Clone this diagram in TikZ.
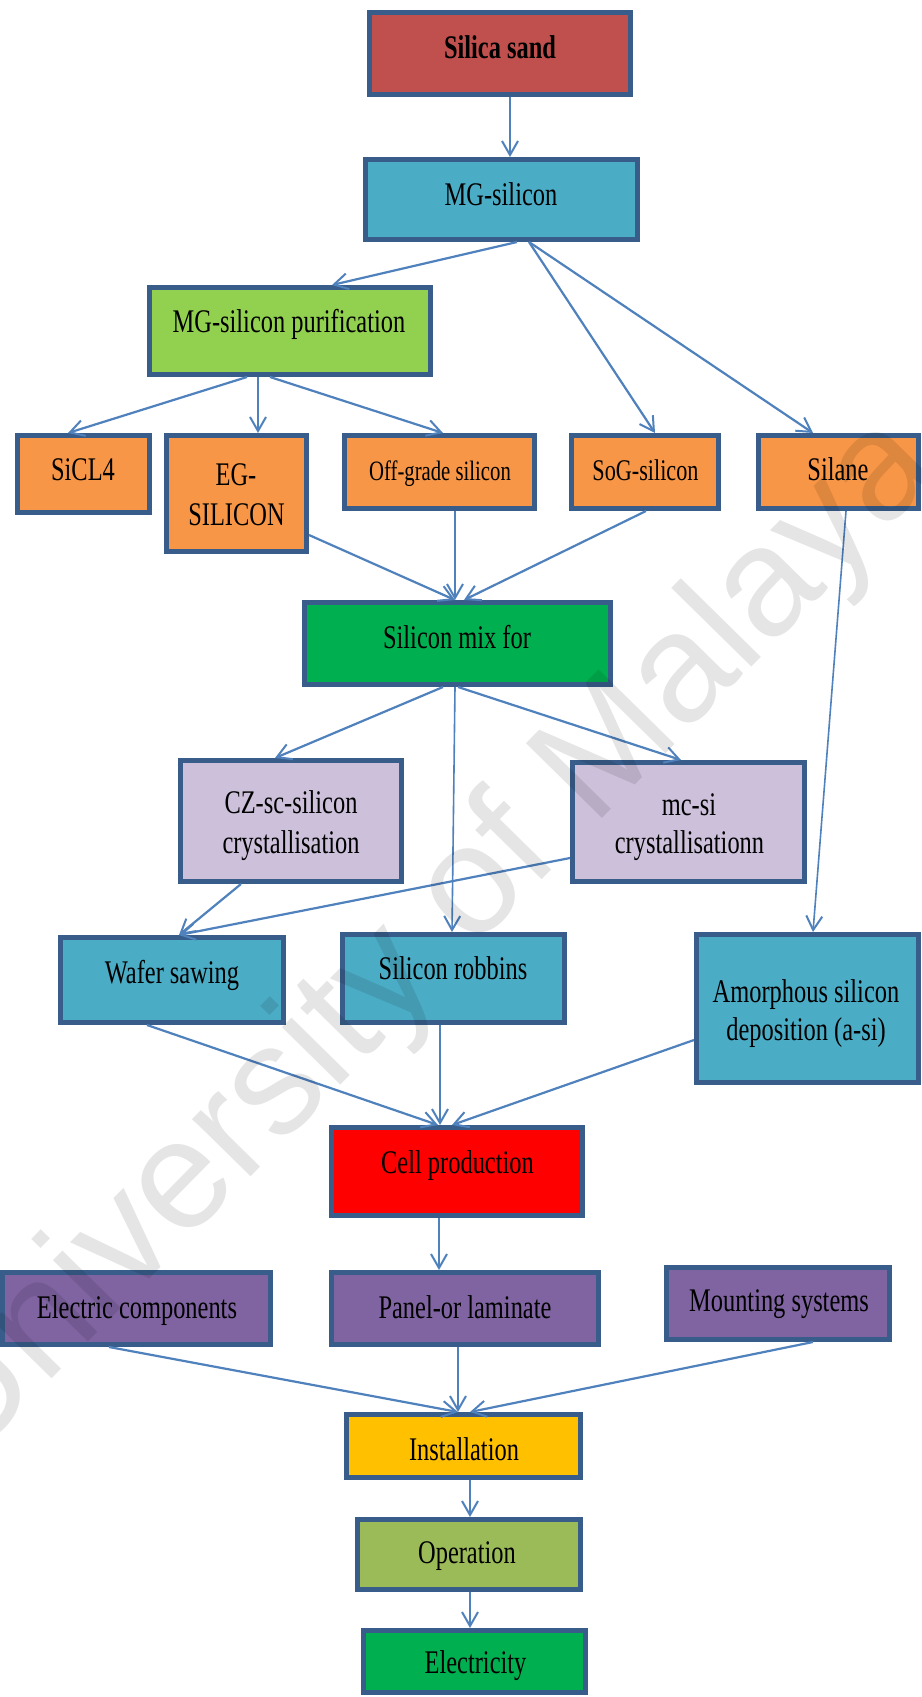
\documentclass[tikz,border=0pt]{standalone}
\usepackage{fontspec}
\setmainfont{Liberation Serif}[FakeStretch=0.74]
\newfontfamily\wmfont{Liberation Sans}
\usetikzlibrary{arrows.meta}

\definecolor{frameblue}{HTML}{385D8A}
\definecolor{flowblue}{HTML}{4F81BD}
\definecolor{sandred}{HTML}{C0504D}
\definecolor{tealbox}{HTML}{4BACC6}
\definecolor{limebox}{HTML}{92D050}
\definecolor{orangebox}{HTML}{F79646}
\definecolor{greenbox}{HTML}{00B050}
\definecolor{lilacbox}{HTML}{CCC0DA}
\definecolor{redbox}{HTML}{FF0000}
\definecolor{purplebox}{HTML}{8064A2}
\definecolor{amberbox}{HTML}{FFC000}
\definecolor{olivebox}{HTML}{9BBB59}

\begin{document}
\begin{tikzpicture}[x=1pt,y=-1pt,
  box/.style={draw=frameblue, line width=5pt, rectangle, inner sep=0pt},
  lbl/.style={font=\fontsize{33}{40}\selectfont, inner sep=0pt, anchor=base},
  flow/.style={draw=flowblue, line width=2.2pt,
    -{Straight Barb[length=14pt,width=16pt,line width=2pt]}},
  lightflow/.style={flow, line width=1.6pt},
]
\useasboundingbox (0,0) rectangle (921,1697);
\fill[white] (0,0) rectangle (921,1697);

% ---- boxes (minimum size = outer size minus the frame width) ----
\node[box, fill=sandred,   minimum width=261, minimum height=82]  (sand)    at (500,53.5)   {};
\node[box, fill=tealbox,   minimum width=272, minimum height=80]  (mg)      at (501.5,199.5) {};
\node[box, fill=limebox,   minimum width=281, minimum height=87]  (purif)   at (290,331)    {};
\node[box, fill=orangebox, minimum width=132, minimum height=77]  (sicl)    at (83.5,474)   {};
\node[box, fill=orangebox, minimum width=140, minimum height=116] (eg)      at (236.5,493.5) {};
\node[box, fill=orangebox, minimum width=190, minimum height=73]  (off)     at (439.5,472)  {};
\node[box, fill=orangebox, minimum width=147, minimum height=73]  (sog)     at (645,472)    {};
\node[box, fill=orangebox, minimum width=160, minimum height=73]  (silane)  at (838.5,472)  {};
\node[box, fill=greenbox,  minimum width=306, minimum height=82]  (mix)     at (457.5,643.5) {};
\node[box, fill=lilacbox,  minimum width=221, minimum height=121] (cz)      at (291,821)    {};
\node[box, fill=lilacbox,  minimum width=232, minimum height=119] (mc)      at (688.5,822)  {};
\node[box, fill=tealbox,   minimum width=223, minimum height=85]  (wafer)   at (172,980)    {};
\node[box, fill=tealbox,   minimum width=222, minimum height=88]  (ribbon)  at (453.5,978.5) {};
\node[box, fill=tealbox,   minimum width=222, minimum height=148] (amorph)  at (807.5,1008.5) {};
\node[box, fill=redbox,    minimum width=251, minimum height=88]  (cell)    at (457,1171.5) {};
\node[box, fill=purplebox, minimum width=268, minimum height=72]  (ecomp)   at (136.5,1308.5) {};
\node[box, fill=purplebox, minimum width=267, minimum height=72]  (panel)   at (465,1308.5) {};
\node[box, fill=purplebox, minimum width=223, minimum height=72]  (mount)   at (778,1303.5) {};
\node[box, fill=amberbox,  minimum width=234, minimum height=63]  (install) at (463.5,1446)  {};
\node[box, fill=olivebox,  minimum width=223, minimum height=70]  (oper)    at (469,1554.5) {};
\node[box, fill=greenbox,  minimum width=222, minimum height=62]  (power)   at (474.5,1661.5) {};

% ---- box texts (placed on their baselines) ----
\node[lbl, font=\fontsize{33}{40}\selectfont\bfseries] (sand-t) at (500,58) {Silica sand};
\node[lbl] (mg-t)      at (501,205)  {MG-silicon};
\node[lbl] (purif-t)   at (289,332)  {MG-silicon purification};
\node[lbl] (sicl-t)    at (83,480)   {SiCL4};
\node[lbl] (eg-t1)     at (236,485)  {EG-};
\node[lbl] (eg-t2)     at (236.5,525) {SILICON};
\node[lbl, font=\fontsize{28}{34}\selectfont] (off-t) at (440,480) {Off-grade silicon};
\node[lbl, font=\fontsize{30}{36}\selectfont] (sog-t) at (645.5,480) {SoG-silicon};
\node[lbl] (silane-t)  at (838,480)  {Silane};
\node[lbl] (mix-t)     at (457,648)  {Silicon mix for};
\node[lbl] (cz-t1)     at (291,813)  {CZ-sc-silicon};
\node[lbl] (cz-t2)     at (291,853)  {crystallisation};
\node[lbl] (mc-t1)     at (689,815)  {mc-si};
\node[lbl] (mc-t2)     at (689.5,853) {crystallisationn};
\node[lbl] (wafer-t)   at (172,983)  {Wafer sawing};
\node[lbl] (ribbon-t)  at (453,979)  {Silicon robbins};
\node[lbl] (amorph-t1) at (806,1002) {Amorphous silicon};
\node[lbl] (amorph-t2) at (806,1040) {deposition (a-si)};
\node[lbl] (cell-t)    at (457.5,1173) {Cell production};
\node[lbl] (ecomp-t)   at (137,1318) {Electric components};
\node[lbl] (panel-t)   at (465,1318) {Panel-or laminate};
\node[lbl] (mount-t)   at (779,1311) {Mounting systems};
\node[lbl] (install-t) at (464,1460) {Installation};
\node[lbl] (oper-t)    at (467,1563) {Operation};
\node[lbl] (power-t)   at (475.5,1673) {Electricity};

% ---- connectors ----
\draw[lightflow] ([xshift=10]sand.south)   -- ([xshift=8.5]mg.north);
\draw[flow]      ([xshift=15.5]mg.south)   -- ([xshift=42]purif.north);
\draw[flow]      ([xshift=27.5]mg.south)   -- ([xshift=10]sog.north);
\draw[flow]      ([xshift=27.5]mg.south)   -- ([xshift=-25.5]silane.north);
\draw[flow]      ([xshift=-43]purif.south) -- ([xshift=-15.5]sicl.north);
\draw[lightflow] ([xshift=-32]purif.south) -- ([xshift=21.5]eg.north);
\draw[flow]      ([xshift=-20]purif.south) -- ([xshift=3.5]off.north);
\draw[flow]      ([yshift=-41.5]eg.east)   -- ([xshift=-2.5]mix.north);
\draw[lightflow] ([xshift=15.5]off.south)  -- ([xshift=-2.5]mix.north);
\draw[flow]      ([xshift=1]sog.south)     -- ([xshift=6.5]mix.north);
\draw[lightflow] ([xshift=7.5]silane.south) -- ([xshift=5.5]amorph.north);
\draw[flow]      ([xshift=-14.5]mix.south) -- ([xshift=-16]cz.north);
\draw[lightflow] ([xshift=-2.5]mix.south)  -- ([xshift=-1.5]ribbon.north);
\draw[flow]      ([xshift=0.5]mix.south)   -- ([xshift=-7.5]mc.north);
\draw[flow]      ([xshift=-50]cz.south)    -- ([xshift=7]wafer.north);
\draw[flow]      ([yshift=-36]mc.west)     -- ([xshift=7]wafer.north);
\draw[flow]      ([xshift=-25]wafer.south) -- ([xshift=-19]cell.north);
\draw[lightflow] ([xshift=-13.5]ribbon.south) -- ([xshift=-17]cell.north);
\draw[flow]      ([yshift=-31.5]amorph.west) -- ([xshift=-5]cell.north);
\draw[lightflow] ([xshift=-18]cell.south)  -- ([xshift=-26]panel.north);
\draw[flow]      ([xshift=-27.5]ecomp.south) -- ([xshift=-5.5]install.north);
\draw[lightflow] ([xshift=-7]panel.south)  -- ([xshift=-5.5]install.north);
\draw[flow]      ([xshift=35]mount.south)  -- ([xshift=6.5]install.north);
\draw[lightflow] ([xshift=6.5]install.south) -- ([xshift=1]oper.north);
\draw[lightflow] ([xshift=1]oper.south)    -- ([xshift=-4.5]power.north);

% ---- watermark ----
\node[rotate=45.5, text=black, text opacity=0.1, inner sep=0pt,
      font=\wmfont\fontsize{155}{155}\selectfont] (mark) at (426,941) {University of Malaya};
\end{tikzpicture}
\end{document}
